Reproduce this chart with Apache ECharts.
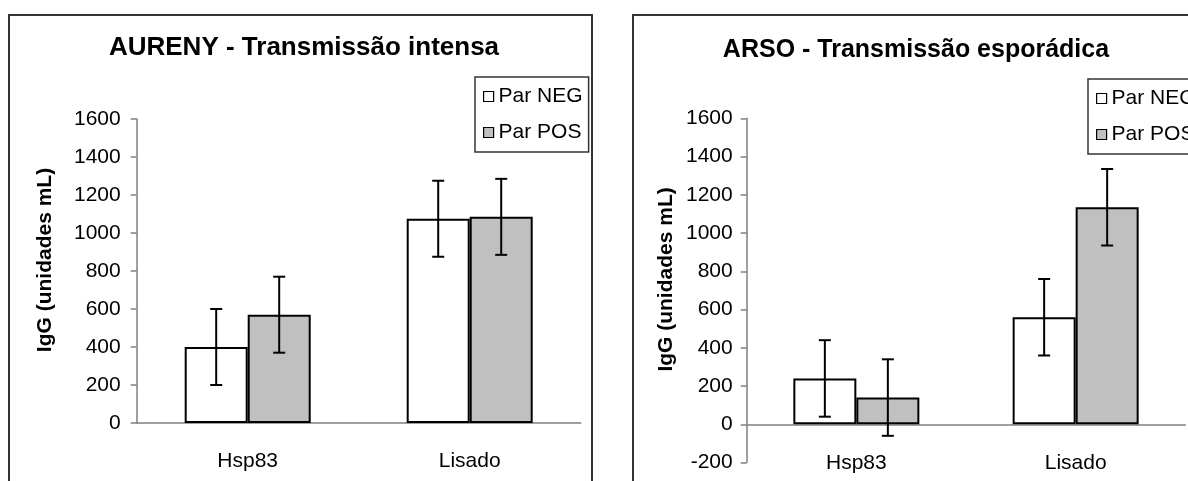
<!DOCTYPE html>
<html>
<head>
    <meta charset="utf-8">
    <title>IgG - AURENY / ARSO</title>
    <script src="https://cdn.jsdelivr.net/npm/echarts@6/dist/echarts.min.js"></script>
    <style>
        body { margin: 0; background: #fff; overflow: hidden; }
        #chart { width: 1188px; height: 481px; }
    </style>
</head>
<body>
<div id="chart"></div>
<script>
// dados
const categories = ['Hsp83', 'Lisado'];
const seriesNames = ['Par NEG', 'Par POS'];

// AURENY - Transmissão intensa
const aurenyNeg = [400, 1075];
const aurenyPos = [570, 1085];
const aurenyNegErr = [200, 200];
const aurenyPosErr = [200, 200];

// ARSO - Transmissão esporádica
const arsoNeg = [240, 560];
const arsoPos = [140, 1135];
const arsoNegErr = [200, 200];
const arsoPosErr = [200, 200];

const yTicksLeft = { min: 0, max: 1600, interval: 200 };
const yTicksRight = { min: -200, max: 1600, interval: 200 };

const FONT = '"Liberation Sans", Arial, sans-serif';
const BAR_W = 63;
const CAP = 6;

// intervalo de erro a partir de valor e desvio
function errData(vals, errs) {
    return vals.map((v, i) => [i, v - errs[i], v + errs[i]]);
}

function errorSeries(name, idx, data, side) {
    return {
        type: 'custom',
        name: name,
        xAxisIndex: idx,
        yAxisIndex: idx,
        z: 5,
        silent: true,
        data: data,
        renderItem: function (params, api) {
            const lo = api.coord([api.value(0), api.value(1)]);
            const hi = api.coord([api.value(0), api.value(2)]);
            const x = lo[0] + side * BAR_W / 2;
            const st = { stroke: '#000', lineWidth: 2 };
            return {
                type: 'group',
                children: [
                    { type: 'line', shape: { x1: x, y1: lo[1], x2: x, y2: hi[1] }, style: st },
                    { type: 'line', shape: { x1: x - CAP, y1: lo[1], x2: x + CAP, y2: lo[1] }, style: st },
                    { type: 'line', shape: { x1: x - CAP, y1: hi[1], x2: x + CAP, y2: hi[1] }, style: st }
                ]
            };
        }
    };
}

function barSeries(name, idx, data, color) {
    return {
        type: 'bar',
        name: name,
        xAxisIndex: idx,
        yAxisIndex: idx,
        barWidth: BAR_W,
        barGap: '0%',
        data: data,
        itemStyle: { color: color, borderColor: '#000', borderWidth: 2 }
    };
}

const axisGray = { color: '#808080', width: 1.5 };
const catLabel = { color: '#000', fontSize: 21, fontFamily: FONT };

const chart = echarts.init(document.getElementById('chart'), null, { renderer: 'canvas' });

function yAxisOf(idx, ticks, gap, labelMargin) {
    return {
        type: 'value',
        gridIndex: idx,
        min: ticks.min,
        max: ticks.max,
        interval: ticks.interval,
        name: 'IgG (unidades mL)',
        nameLocation: 'middle',
        nameGap: gap,
        nameTextStyle: {
            color: '#000', fontSize: 21, fontWeight: 'bold', fontFamily: FONT,
            padding: [0, 0, 0, 22]
        },
        splitLine: { show: false },
        axisLine: { show: true, lineStyle: axisGray },
        axisTick: { show: true, length: 6, lineStyle: axisGray },
        axisLabel: {
            color: '#000', fontSize: 21, fontFamily: FONT, margin: labelMargin,
            formatter: v => String(v)
        }
    };
}

function legendAt(left, top) {
    return {
        orient: 'vertical',
        left: left,
        top: top,
        data: seriesNames,
        icon: 'rect',
        itemWidth: 10,
        itemHeight: 10,
        itemGap: 15,
        padding: [9, 6, 9, 8],
        borderColor: '#333',
        borderWidth: 1.5,
        selectedMode: false,
        itemStyle: { borderColor: '#000', borderWidth: 1.2 },
        textStyle: { color: '#000', fontSize: 21, fontFamily: FONT }
    };
}

chart.setOption({
    animation: false,
    backgroundColor: '#fff',
    title: [
        {
            text: 'AURENY - Transmissão intensa',
            left: 304, top: 35, textAlign: 'center', padding: 0,
            textStyle: { fontSize: 26, fontWeight: 'bold', color: '#000', fontFamily: FONT }
        },
        {
            text: 'ARSO - Transmissão esporádica',
            left: 916, top: 38, textAlign: 'center', padding: 0,
            textStyle: { fontSize: 25, fontWeight: 'bold', color: '#000', fontFamily: FONT }
        }
    ],
    legend: [legendAt(475, 77), legendAt(1088, 79)],
    graphic: [
        // molduras dos dois painéis
        { type: 'rect', shape: { x: 9, y: 15, width: 583, height: 480 },
          style: { fill: 'none', stroke: '#333', lineWidth: 2 }, silent: true },
        { type: 'rect', shape: { x: 633, y: 15, width: 580, height: 480 },
          style: { fill: 'none', stroke: '#333', lineWidth: 2 }, silent: true }
    ],
    grid: [
        { left: 136.7, top: 119, width: 444, height: 304, outerBoundsMode: 'none' },
        { left: 746.7, top: 118.3, width: 438.6, height: 344.3, outerBoundsMode: 'none' }
    ],
    xAxis: [
        {
            type: 'category', gridIndex: 0, data: categories,
            axisLine: { lineStyle: axisGray },
            axisTick: { length: 6, lineStyle: axisGray },
            axisLabel: Object.assign({ margin: 28 }, catLabel)
        },
        // painel direito: linha no zero, rótulos embaixo
        {
            type: 'category', gridIndex: 1, data: categories,
            axisLine: { onZero: true, lineStyle: axisGray },
            axisTick: { length: 6, lineStyle: axisGray },
            axisLabel: { show: false }
        },
        {
            type: 'category', gridIndex: 1, data: categories, position: 'bottom',
            axisLine: { show: false, onZero: false },
            axisTick: { show: false },
            axisLabel: Object.assign({ margin: -10 }, catLabel)
        }
    ],
    yAxis: [yAxisOf(0, yTicksLeft, 81, 16), yAxisOf(1, yTicksRight, 70, 14)],
    series: [
        barSeries(seriesNames[0], 0, aurenyNeg, '#fff'),
        barSeries(seriesNames[1], 0, aurenyPos, '#c0c0c0'),
        errorSeries('errNeg0', 0, errData(aurenyNeg, aurenyNegErr), -1),
        errorSeries('errPos0', 0, errData(aurenyPos, aurenyPosErr), 1),
        barSeries(seriesNames[0], 1, arsoNeg, '#fff'),
        barSeries(seriesNames[1], 1, arsoPos, '#c0c0c0'),
        errorSeries('errNeg1', 1, errData(arsoNeg, arsoNegErr), -1),
        errorSeries('errPos1', 1, errData(arsoPos, arsoPosErr), 1)
    ]
});
</script>
</body>
</html>
